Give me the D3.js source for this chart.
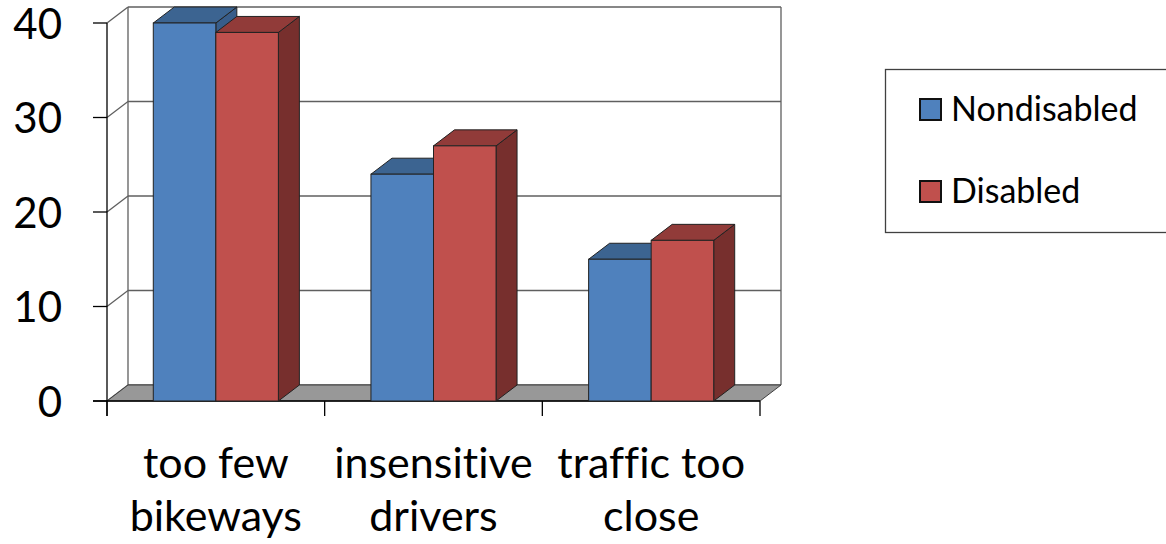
<!DOCTYPE html>
<html lang="en">
<head>
	<meta charset="UTF-8">
	<title>3D Column Chart</title>
	<script src="https://d3js.org/d3.v7.min.js"></script>
	<style>
		body { margin: 0; background: #fff; }
		svg { display: block; background-color: #fff; }
		text { font-family: Lato, "Open Sans", sans-serif; fill: #000; font-variant-ligatures: none; }
	</style>
</head>
<body>
<div id="chart"></div>
<script>
	// Data
	const categoryLines = [["too few", "bikeways"], ["insensitive", "drivers"], ["traffic too", "close"]];
	const seriesNames = ["Nondisabled", "Disabled"];
	const nondisabled = [40, 24, 15];
	const disabled = [39, 27, 17];
	const yTicks = [0, 10, 20, 30, 40];

	const seriesValues = [nondisabled, disabled];
	const categories = categoryLines.map(d => d.join(" "));

	// colours: front, top, side
	const colors = {
		Nondisabled: { front: "#4F81BD", top: "#3C6491", side: "#385D8A" },
		Disabled: { front: "#C0504D", top: "#913B39", side: "#772F2D" }
	};

	const sizeX = 1166;
	const sizeY = 544;

	// 3D depth offset
	const dx = 21, dy = 16;

	const svg = d3.create("svg")
		.attr("width", sizeX)
		.attr("height", sizeY);

	// Scales
	const y = d3.scaleLinear()
		.domain([0, 40])
		.range([401, 23]);

	const x0 = d3.scaleBand()
		.domain(categories)
		.range([107, 760])
		.padding(0);

	const x1 = d3.scaleBand()
		.domain(seriesNames)
		.range([0, x0.bandwidth()])
		.paddingInner(0)
		.paddingOuter(0.74);

	const gridColor = "#5f5f5f";
	const left = x0.range()[0], right = x0.range()[1];

	// Side wall (left)
	svg.append("polygon")
		.attr("points", [[left, y(0)], [left + dx, y(0) - dy], [left + dx, y(40) - dy], [left, y(40)]].join(" "))
		.attr("fill", "#fff");

	// Back wall gridlines
	yTicks.forEach(t => {
		svg.append("line")
			.attr("x1", left + dx).attr("x2", right + dx)
			.attr("y1", y(t) - dy).attr("y2", y(t) - dy)
			.attr("stroke", gridColor).attr("stroke-width", 1.3);
		svg.append("line")
			.attr("x1", left).attr("x2", left + dx)
			.attr("y1", y(t)).attr("y2", y(t) - dy)
			.attr("stroke", gridColor).attr("stroke-width", 1.3);
	});

	// Back wall vertical edges
	[left + dx, right + dx].forEach(xx => {
		svg.append("line")
			.attr("x1", xx).attr("x2", xx)
			.attr("y1", y(40) - dy).attr("y2", y(0) - dy)
			.attr("stroke", gridColor).attr("stroke-width", 1.3);
	});

	// Floor
	svg.append("polygon")
		.attr("points", [[left, y(0)], [left + dx, y(0) - dy], [right + dx, y(0) - dy], [right, y(0)]].join(" "))
		.attr("fill", "#989898")
		.attr("stroke", "#404040")
		.attr("stroke-width", 1);

	// Y axis
	svg.append("line")
		.attr("x1", left).attr("x2", left)
		.attr("y1", y(40)).attr("y2", y(0) + 15)
		.attr("stroke", "#000").attr("stroke-width", 1.3);

	yTicks.forEach(t => {
		svg.append("line")
			.attr("x1", left - 14).attr("x2", left)
			.attr("y1", y(t)).attr("y2", y(t))
			.attr("stroke", "#000").attr("stroke-width", 1.3);
		svg.append("text")
			.attr("x", 62)
			.attr("y", y(t) + 15.5)
			.attr("text-anchor", "end")
			.style("font-size", "42px")
			.text(t);
	});

	// X axis
	svg.append("line")
		.attr("x1", left - 14).attr("x2", right)
		.attr("y1", y(0)).attr("y2", y(0))
		.attr("stroke", "#000").attr("stroke-width", 1.3);

	categories.concat([null]).forEach((c, i) => {
		const xx = c === null ? right : x0(c);
		svg.append("line")
			.attr("x1", xx).attr("x2", xx)
			.attr("y1", y(0)).attr("y2", y(0) + 15)
			.attr("stroke", "#000").attr("stroke-width", 1.3);
	});

	// Bars
	categories.forEach((c, ci) => {
		seriesNames.forEach((s, si) => {
			const v = seriesValues[si][ci];
			const bx = x0(c) + x1(s);
			const bw = x1.bandwidth();
			const yt = y(v), yb = y(0);
			const col = colors[s];

			svg.append("polygon")
				.attr("points", [[bx + bw, yt], [bx + bw + dx, yt - dy], [bx + bw + dx, yb - dy], [bx + bw, yb]].join(" "))
				.attr("fill", col.side)
				.attr("stroke", "#222").attr("stroke-width", 1)
				.attr("stroke-linejoin", "round");

			svg.append("polygon")
				.attr("points", [[bx, yt], [bx + dx, yt - dy], [bx + bw + dx, yt - dy], [bx + bw, yt]].join(" "))
				.attr("fill", col.top)
				.attr("stroke", "#222").attr("stroke-width", 1)
				.attr("stroke-linejoin", "round");

			svg.append("rect")
				.attr("x", bx).attr("y", yt)
				.attr("width", bw).attr("height", yb - yt)
				.attr("fill", col.front)
				.attr("stroke", "#222").attr("stroke-width", 1);
		});
	});

	// Category labels
	categoryLines.forEach((lines, i) => {
		const cx = x0(categories[i]) + x0.bandwidth() / 2;
		lines.forEach((line, li) => {
			svg.append("text")
				.attr("x", cx)
				.attr("y", 478 + li * 53)
				.attr("text-anchor", "middle")
				.style("font-size", "43px")
				.text(line);
		});
	});

	// Legend
	const legend = svg.append("g");
	legend.append("rect")
		.attr("x", 885.5).attr("y", 69.5)
		.attr("width", 400).attr("height", 163)
		.attr("fill", "#fff")
		.attr("stroke", "#404040").attr("stroke-width", 1.3);

	seriesNames.forEach((s, i) => {
		const ly = 99 + i * 82;
		legend.append("rect")
			.attr("x", 920).attr("y", ly)
			.attr("width", 21).attr("height", 21)
			.attr("fill", colors[s].front)
			.attr("stroke", "#111").attr("stroke-width", 2);
		legend.append("text")
			.attr("x", 951)
			.attr("y", ly + 22)
			.style("font-size", "34px")
			.text(s);
	});

	document.getElementById("chart").append(svg.node());
</script>
</body>
</html>
